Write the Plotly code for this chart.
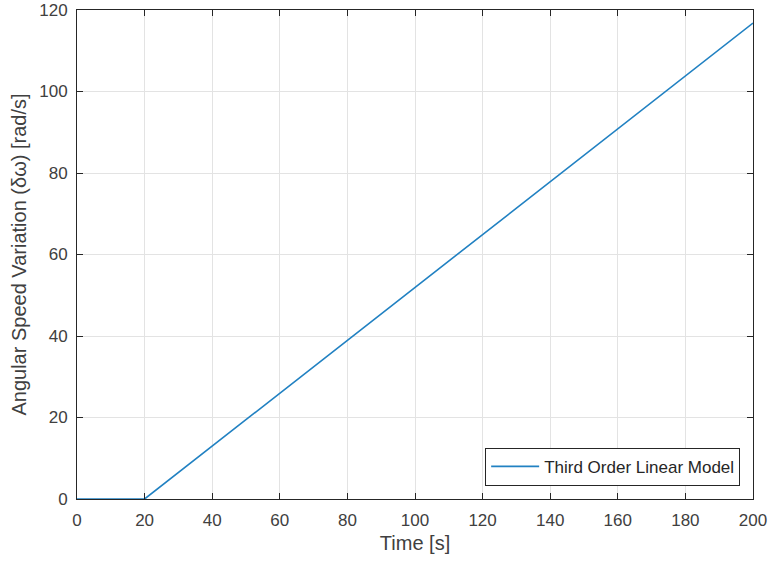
import plotly.graph_objects as go

# Step response of the third order linear model
time_s = [0, 20, 200]
delta_omega = [0, 0, 116.8]

x_ticks = [0, 20, 40, 60, 80, 100, 120, 140, 160, 180, 200]
y_ticks = [0, 20, 40, 60, 80, 100, 120]

axis_color = "#262626"
label_color = "#404040"
grid_color = "#e3e3e3"
font_family = "Liberation Sans, Arial, sans-serif"

fig = go.Figure()
fig.add_trace(go.Scatter(
    x=time_s, y=delta_omega, mode="lines",
    name="Third Order Linear Model",
    line=dict(color="#2181c2", width=1.6),
))

common_axis = dict(
    showline=True, linecolor=axis_color, linewidth=1, mirror="ticks",
    ticks="inside", ticklen=6, tickcolor=axis_color, tickwidth=1,
    showgrid=True, gridcolor=grid_color, gridwidth=1,
    zeroline=False, automargin=False,
    tickfont=dict(family=font_family, size=17, color=label_color),
)

fig.update_layout(
    width=769, height=565,
    margin=dict(l=77, r=16, t=10, b=66),
    paper_bgcolor="white", plot_bgcolor="white",
    font=dict(family=font_family, color=label_color),
    xaxis=dict(
        range=[0, 200], tickvals=x_ticks, ticklabelstandoff=6,
        title=dict(text="Time [s]", font=dict(size=20, color=label_color), standoff=6),
        **common_axis,
    ),
    yaxis=dict(
        range=[0, 120], tickvals=y_ticks, ticklabelstandoff=5,
        title=dict(text="Angular Speed Variation (δω) [rad/s]", font=dict(size=20, color=label_color), standoff=7),
        **common_axis,
    ),
    showlegend=True,
    legend=dict(
        x=0.981, y=0.027, xanchor="right", yanchor="bottom",
        bgcolor="white", bordercolor=axis_color, borderwidth=1,
        font=dict(family=font_family, size=17, color="#262626"),
        tracegroupgap=0, itemwidth=48,
    ),
)

fig.write_html("out.html")
